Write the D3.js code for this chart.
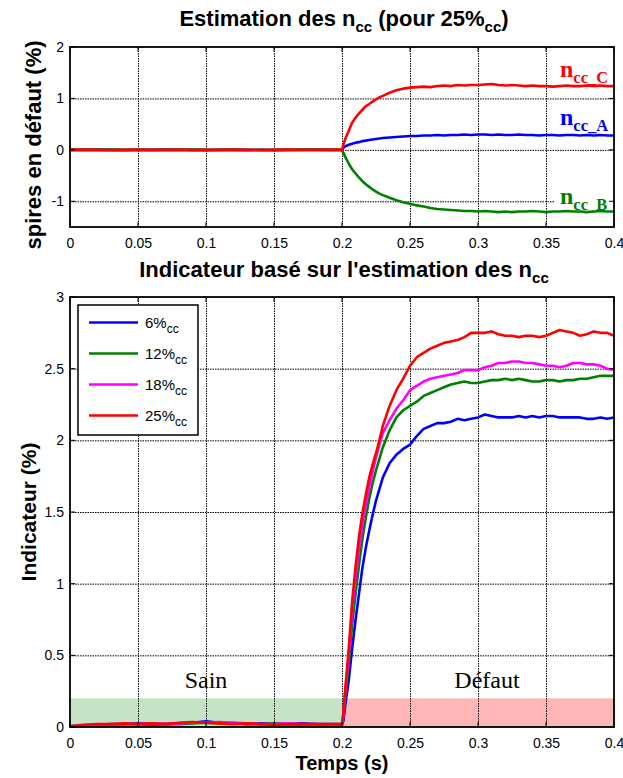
<!DOCTYPE html>
<html><head><meta charset="utf-8">
<script src="https://cdn.jsdelivr.net/npm/d3@7/dist/d3.min.js"></script>
<style>
body{margin:0;background:#fff;}
svg{display:block;font-family:"Liberation Sans",Arial,sans-serif;}
</style></head>
<body>
<svg id="chart" width="623" height="778"></svg>
<script>
// ---------- data ----------
const time = [0,0.01,0.02,0.03,0.04,0.05,0.06,0.07,0.08,0.09,0.1,0.11,0.12,0.13,0.14,0.15,0.16,0.17,0.18,0.19,0.2,
  0.201,0.2025,0.205,0.2075,0.21,0.2125,0.215,0.2175,0.22,0.2225,0.225,0.2275,0.23,
  0.235,0.24,0.245,0.25,0.255,0.26,0.265,0.27,0.275,0.28,0.285,0.29,0.295,0.3,0.305,0.31,0.315,0.32,0.325,0.33,0.335,0.34,0.345,0.35,0.355,0.36,0.365,0.37,0.375,0.38,0.385,0.39,0.395,0.4];

// top chart: estimated n_cc (%)
const nccA = [0,0,0.005,0,-0.005,0,0,0.005,0,0,-0.005,0,0.005,0,0,-0.005,0,0,0.005,0,0,
  0.04,0.07,0.10,0.12,0.14,0.15,0.17,0.18,0.19,0.20,0.21,0.22,0.23,
  0.24,0.25,0.26,0.27,0.27,0.28,0.28,0.29,0.28,0.29,0.29,0.30,0.29,0.30,0.30,0.29,0.30,0.29,0.29,0.30,0.29,0.29,0.28,0.29,0.29,0.28,0.29,0.29,0.28,0.29,0.28,0.29,0.28,0.28];
const nccB = [0,0,0,0.005,0,0,-0.005,0,0,0.005,0,0,0,-0.005,0,0,0,0.005,0.005,0,0,
  -0.06,-0.14,-0.27,-0.38,-0.46,-0.54,-0.61,-0.67,-0.72,-0.77,-0.81,-0.85,-0.88,
  -0.93,-0.98,-1.02,-1.05,-1.08,-1.10,-1.13,-1.15,-1.16,-1.17,-1.18,-1.19,-1.19,-1.20,-1.19,-1.20,-1.21,-1.20,-1.21,-1.20,-1.20,-1.19,-1.20,-1.21,-1.20,-1.20,-1.19,-1.20,-1.20,-1.21,-1.20,-1.19,-1.20,-1.20];
const nccC = [0,0.005,0,-0.005,0,0.005,0,0,0.005,-0.005,0,0,0.005,0,-0.005,0,0.005,0,0,0.005,0,
  0.10,0.22,0.37,0.53,0.63,0.71,0.78,0.85,0.89,0.94,0.98,1.02,1.05,
  1.11,1.16,1.19,1.21,1.22,1.23,1.22,1.24,1.25,1.24,1.26,1.25,1.26,1.26,1.27,1.28,1.26,1.25,1.26,1.25,1.24,1.25,1.24,1.24,1.23,1.24,1.25,1.24,1.24,1.25,1.24,1.25,1.24,1.24];

// bottom chart: indicator (%)
const ind6 = [0.005,0.01,0.015,0.02,0.02,0.025,0.02,0.02,0.025,0.03,0.04,0.03,0.025,0.02,0.025,0.02,0.02,0.025,0.02,0.02,0.02,
  0.04,0.16,0.33,0.55,0.75,0.93,1.11,1.25,1.37,1.48,1.58,1.66,1.74,
  1.84,1.90,1.94,1.97,2.03,2.08,2.10,2.12,2.12,2.13,2.15,2.14,2.15,2.16,2.18,2.17,2.16,2.16,2.16,2.17,2.16,2.17,2.16,2.17,2.17,2.16,2.16,2.16,2.16,2.15,2.15,2.16,2.15,2.16];
const ind12 = [0.005,0.01,0.01,0.015,0.02,0.02,0.015,0.02,0.02,0.025,0.03,0.025,0.03,0.02,0.02,0.025,0.02,0.015,0.02,0.015,0.01,
  0.07,0.22,0.45,0.72,0.93,1.13,1.31,1.46,1.59,1.70,1.79,1.87,1.95,
  2.07,2.16,2.21,2.24,2.27,2.31,2.33,2.35,2.37,2.39,2.40,2.41,2.40,2.40,2.41,2.42,2.42,2.43,2.42,2.43,2.42,2.41,2.41,2.42,2.42,2.41,2.42,2.42,2.43,2.43,2.44,2.45,2.45,2.45];
const ind18 = [0.005,0.01,0.015,0.015,0.02,0.02,0.025,0.02,0.025,0.03,0.03,0.035,0.03,0.025,0.02,0.02,0.025,0.02,0.02,0.015,0.02,
  0.08,0.25,0.50,0.82,1.04,1.24,1.41,1.55,1.67,1.78,1.88,1.97,2.05,
  2.14,2.22,2.28,2.35,2.38,2.41,2.43,2.44,2.45,2.46,2.47,2.49,2.49,2.49,2.51,2.52,2.54,2.54,2.55,2.55,2.54,2.54,2.53,2.52,2.52,2.51,2.52,2.54,2.54,2.53,2.53,2.52,2.50,2.49];
const ind25 = [0.005,0.015,0.02,0.02,0.025,0.02,0.025,0.02,0.03,0.035,0.03,0.025,0.02,0.025,0.02,0.015,0.02,0.02,0.02,0.02,0.02,
  0.10,0.28,0.55,0.88,1.12,1.33,1.49,1.62,1.74,1.83,1.91,2.00,2.10,
  2.24,2.35,2.43,2.52,2.58,2.61,2.64,2.66,2.68,2.69,2.70,2.72,2.75,2.75,2.75,2.76,2.74,2.73,2.73,2.72,2.73,2.73,2.72,2.73,2.75,2.77,2.76,2.75,2.73,2.74,2.76,2.75,2.75,2.73];

const xTicks = [0,0.05,0.1,0.15,0.2,0.25,0.3,0.35,0.4];
const yTicksTop = [-1,0,1,2];
const yGridTop = [-1,0,1];
const yTicksBottom = [0,0.5,1,1.5,2,2.5,3];

const topSeries = [
  {name:"A", values:nccA, color:"#0000ff"},
  {name:"B", values:nccB, color:"#008000"},
  {name:"C", values:nccC, color:"#ff0000"}
];
const bottomSeries = [
  {label:"6%", values:ind6, color:"#0000ff"},
  {label:"12%", values:ind12, color:"#008000"},
  {label:"18%", values:ind18, color:"#ff00ff"},
  {label:"25%", values:ind25, color:"#ff0000"}
];
const zones = [
  {label:"Sain", from:0, to:0.2, level:0.2, color:"#c5e3c5"},
  {label:"Défaut", from:0.2, to:0.4, level:0.2, color:"#ffb6b6"}
];

// ---------- layout ----------
const SERIF = '"Liberation Serif","Times New Roman",serif';
const SANS = '"Liberation Sans",Arial,sans-serif';
const svg = d3.select("#chart");
const L = 70, R = 614;
const topBox = {t:47, b:227};
const botBox = {t:297, b:727};

const x = d3.scaleLinear().domain([0,0.4]).range([L,R]);
const yTop = d3.scaleLinear().domain([-1.5,2]).range([topBox.b, topBox.t]);
const yBot = d3.scaleLinear().domain([0,3]).range([botBox.b, botBox.t]);
const fmt = d => String(+d.toFixed(2));

function panel(y, box, yTicks, yGrid) {
  const g = svg.append("g");
  const layers = {
    back: g.append("g"),
    grid: g.append("g"),
    bg: g.append("g"),
    curves: g.append("g"),
    frame: g.append("g"),
    text: g.append("g")
  };
  const gx = layers.grid.append("g").attr("transform",`translate(0,${box.b})`)
    .call(d3.axisBottom(x).tickValues(xTicks.slice(1,-1)).tickSize(-(box.b-box.t)).tickFormat(""));
  const gy = layers.grid.append("g").attr("transform",`translate(${L},0)`)
    .call(d3.axisLeft(y).tickValues(yGrid).tickSize(-(R-L)).tickFormat(""));
  [gx,gy].forEach(a=>{
    a.select(".domain").remove();
    a.selectAll("line").attr("stroke","#000").attr("stroke-width",1).attr("stroke-dasharray","1.5,1");
  });
  const lx = layers.frame.append("g").attr("transform",`translate(0,${box.b})`)
    .call(d3.axisBottom(x).tickValues(xTicks).tickFormat(fmt).tickSize(0).tickPadding(11));
  const ly = layers.frame.append("g").attr("transform",`translate(${L},0)`)
    .call(d3.axisLeft(y).tickValues(yTicks).tickFormat(fmt).tickSize(0).tickPadding(6));
  [lx,ly].forEach(a=>{
    a.select(".domain").remove();
    a.selectAll("text").style("font-family",SANS).attr("font-size",14).attr("fill","#000");
  });
  const tk = layers.frame.append("g").attr("stroke","#000").attr("stroke-width",1);
  xTicks.forEach(v=>{
    tk.append("line").attr("x1",x(v)).attr("x2",x(v)).attr("y1",box.b).attr("y2",box.b-5);
    tk.append("line").attr("x1",x(v)).attr("x2",x(v)).attr("y1",box.t).attr("y2",box.t+5);
  });
  yTicks.forEach(v=>{
    tk.append("line").attr("x1",L).attr("x2",L+5).attr("y1",y(v)).attr("y2",y(v));
    tk.append("line").attr("x1",R).attr("x2",R-5).attr("y1",y(v)).attr("y2",y(v));
  });
  layers.frame.append("rect").attr("x",L).attr("y",box.t).attr("width",R-L).attr("height",box.b-box.t)
    .attr("fill","none").attr("stroke","#000").attr("stroke-width",1.8);
  return layers;
}

// ---------- top panel ----------
const T = panel(yTop, topBox, yTicksTop, yGridTop);
const lineTop = d3.line().x((d,i)=>x(time[i])).y(d=>yTop(d));
T.curves.selectAll("path").data(topSeries).join("path")
  .attr("d",d=>lineTop(d.values)).attr("fill","none")
  .attr("stroke",d=>d.color).attr("stroke-width",2.6).attr("stroke-linejoin","round");

const labelY = {C:76.5, A:124.5, B:203.5};
topSeries.forEach(s=>{
  const t = T.text.append("text").attr("x",560).attr("y",labelY[s.name])
    .style("font-family",SERIF).attr("font-weight","bold")
    .attr("fill",s.color).attr("font-size",24);
  t.append("tspan").text("n");
  t.append("tspan").attr("font-size",16.5).attr("dy",6.5).text("cc_"+s.name);
  const bb = t.node().getBBox();
  T.bg.append("rect").attr("x",bb.x-5).attr("y",bb.y+4).attr("width",R-1-(bb.x-5)).attr("height",bb.height-9)
    .attr("fill","#fff");
});

// ---------- bottom panel ----------
const B = panel(yBot, botBox, yTicksBottom, yTicksBottom.slice(1,-1));
B.back.selectAll("rect").data(zones).join("rect")
  .attr("x",d=>x(d.from)).attr("width",d=>x(d.to)-x(d.from))
  .attr("y",d=>yBot(d.level)).attr("height",d=>yBot(0)-yBot(d.level))
  .attr("fill",d=>d.color);
B.text.selectAll("text.zone").data(zones).join("text").attr("class","zone")
  .attr("x",d=>x((d.from+d.to)/2)+(d.label==="Sain"?0:9)).attr("y",688)
  .attr("text-anchor","middle").style("font-family",SERIF)
  .attr("font-size",24).text(d=>d.label);

const lineBot = d3.line().x((d,i)=>x(time[i])).y(d=>yBot(d));
B.curves.selectAll("path").data(bottomSeries).join("path")
  .attr("d",d=>lineBot(d.values)).attr("fill","none")
  .attr("stroke",d=>d.color).attr("stroke-width",2.6).attr("stroke-linejoin","round");

// legend
const lg = B.text.append("g");
lg.append("rect").attr("x",78).attr("y",305).attr("width",120).attr("height",130)
  .attr("fill","#fff").attr("stroke","#000").attr("stroke-width",1.5);
bottomSeries.forEach((s,i)=>{
  const yy = 322.5 + i*31;
  lg.append("line").attr("x1",89).attr("x2",138).attr("y1",yy).attr("y2",yy)
    .attr("stroke",s.color).attr("stroke-width",2.6);
  const t = lg.append("text").attr("x",145).attr("y",yy+5).attr("font-size",15).attr("fill","#000");
  t.append("tspan").text(s.label);
  t.append("tspan").attr("font-size",12).attr("dy",5).text("cc");
});

// ---------- titles ----------
const t1 = svg.append("text").attr("x",344).attr("y",26).attr("text-anchor","middle")
  .attr("font-size",22).attr("font-weight","bold");
t1.append("tspan").text("Estimation des n");
t1.append("tspan").attr("font-size",15).attr("dy",6).text("cc");
t1.append("tspan").attr("dy",-6).text(" (pour 25%");
t1.append("tspan").attr("font-size",15).attr("dy",6).text("cc");
t1.append("tspan").attr("dy",-6).text(")");

const t2 = svg.append("text").attr("x",344).attr("y",277).attr("text-anchor","middle")
  .attr("font-size",22).attr("font-weight","bold");
t2.append("tspan").text("Indicateur basé sur l'estimation des n");
t2.append("tspan").attr("font-size",15).attr("dy",6).text("cc");

svg.append("text").attr("transform","translate(41,145) rotate(-90)").attr("text-anchor","middle")
  .attr("font-size",22).attr("font-weight","bold").text("spires en défaut (%)");
svg.append("text").attr("transform","translate(36,512) rotate(-90)").attr("text-anchor","middle")
  .attr("font-size",21).attr("font-weight","bold").text("Indicateur (%)");
svg.append("text").attr("x",342).attr("y",770).attr("text-anchor","middle")
  .attr("font-size",20).attr("font-weight","bold").text("Temps (s)");
</script>
</body></html>
